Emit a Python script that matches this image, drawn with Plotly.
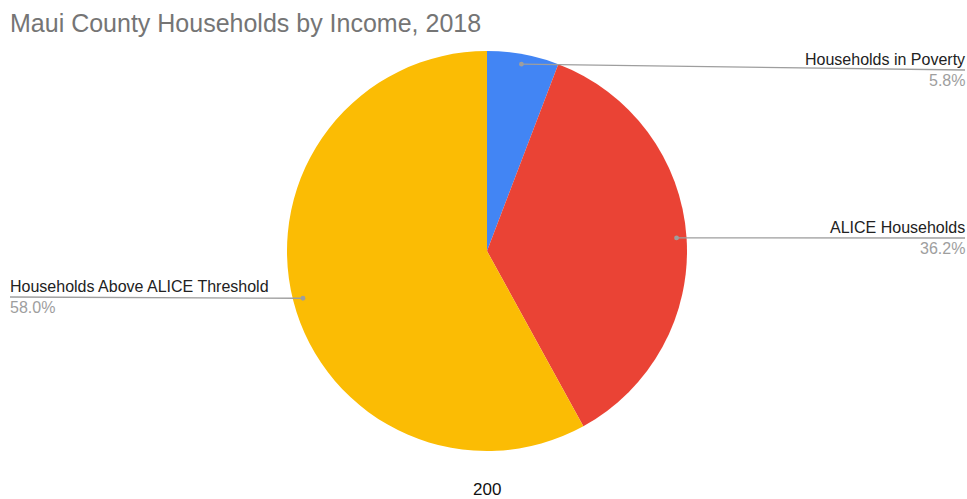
import math
import plotly.graph_objects as go

# Household income groups, Maui County 2018 (percent of households)
labels = ["Households in Poverty", "ALICE Households", "Households Above ALICE Threshold"]
shares = [5.8, 36.2, 58.0]
colors = ["#4285F4", "#EA4335", "#FBBC04"]
footer_value = "200"

W, H = 967, 499
CX, CY, R = 487, 251, 200          # pie centre and radius in pixels
DOT_R = 0.95 * R                   # where each leader line starts

# label rows: (line y in px, side)
label_rows = [(70, "right"), (238, "right"), (297, "left")]
LEFT_X, RIGHT_X = 10, 965
FONT = "Liberation Sans, Arial, sans-serif"


def px(x):
    return x / W


def py(y):
    return 1 - y / H


fig = go.Figure(
    go.Pie(
        labels=labels,
        values=shares,
        marker=dict(colors=colors, line=dict(width=0)),
        sort=False,
        direction="clockwise",
        rotation=0,
        textinfo="none",
        hoverinfo="label+percent",
        showlegend=False,
        domain=dict(x=[px(CX - R), px(CX + R)], y=[py(CY + R), py(CY - R)]),
    )
)

shapes = []
annotations = []
total = sum(shares)
cum = 0.0
for lab, val, (ly, side) in zip(labels, shares, label_rows):
    mid = (cum + val / 2) / total * 2 * math.pi
    cum += val
    dx = CX + DOT_R * math.sin(mid)
    dy = CY - DOT_R * math.cos(mid)
    end_x = RIGHT_X if side == "right" else LEFT_X
    shapes.append(dict(type="line", xref="paper", yref="paper",
                       x0=px(dx), y0=py(dy), x1=px(end_x), y1=py(ly),
                       line=dict(color="#9E9E9E", width=1.3)))
    shapes.append(dict(type="circle", xref="paper", yref="paper",
                       xsizemode="pixel", ysizemode="pixel",
                       xanchor=px(dx), yanchor=py(dy),
                       x0=-2.4, x1=2.4, y0=-2.4, y1=2.4,
                       fillcolor="#9E9E9E", line=dict(width=0)))
    xa = "right" if side == "right" else "left"
    annotations.append(dict(text=lab, xref="paper", yref="paper",
                            x=px(end_x), y=py(ly), xanchor=xa, yanchor="bottom",
                            showarrow=False, xshift=(2 if side == "right" else -2),
                            font=dict(family=FONT, size=16, color="#222222")))
    annotations.append(dict(text=f"{val:.1f}%", xref="paper", yref="paper",
                            x=px(end_x), y=py(ly), xanchor=xa, yanchor="top",
                            showarrow=False, xshift=(2 if side == "right" else -2),
                            font=dict(family=FONT, size=16, color="#9E9E9E")))

annotations.append(dict(text=footer_value, xref="paper", yref="paper",
                        x=px(CX), y=py(489), xanchor="center", yanchor="middle",
                        showarrow=False,
                        font=dict(family=FONT, size=17, color="#111111")))

fig.update_layout(
    width=W, height=H,
    margin=dict(l=0, r=0, t=0, b=0),
    paper_bgcolor="white",
    plot_bgcolor="white",
    title=dict(text="Maui County Households by Income, 2018",
               x=px(10), xanchor="left", y=py(23), yanchor="middle",
               font=dict(family=FONT, size=25, color="#757575")),
    shapes=shapes,
    annotations=annotations,
)

fig.write_html("out.html")
